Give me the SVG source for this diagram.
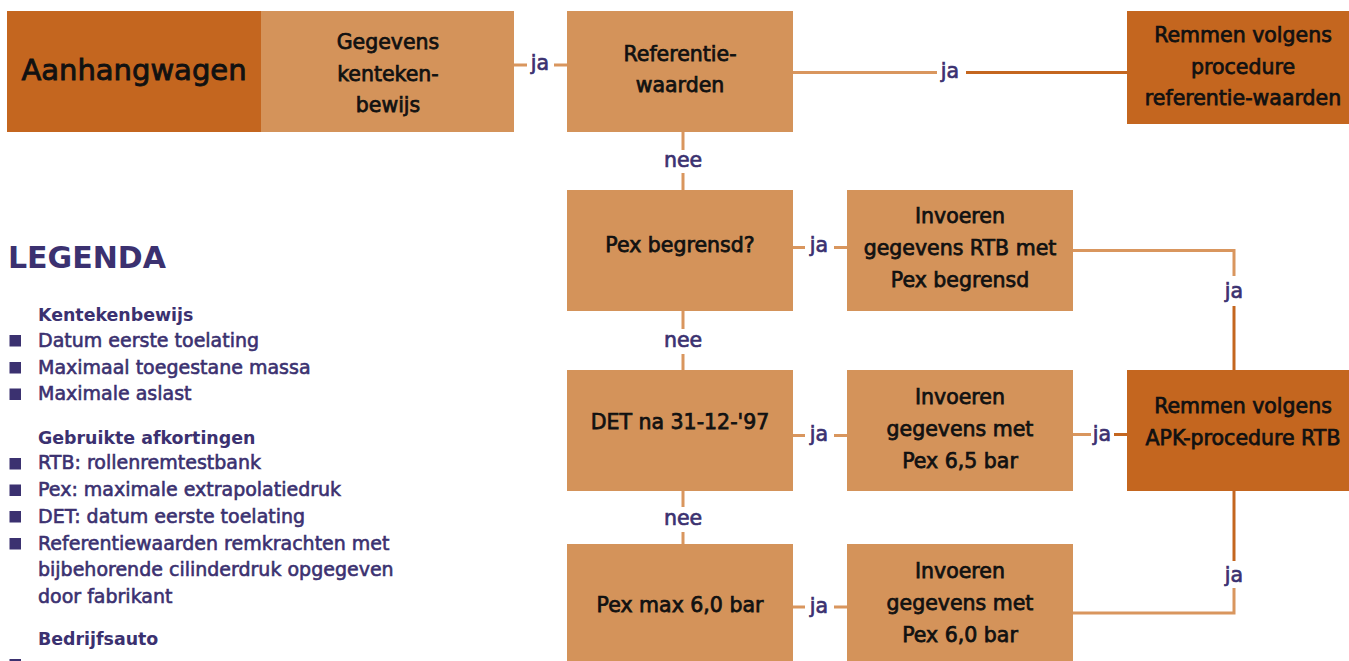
<svg xmlns="http://www.w3.org/2000/svg" width="1349" height="661" viewBox="0 0 1349 661">
<style>
.light{fill:#D4935A}
.dark{fill:#C4661F}
.nt{font-family:"DejaVu Sans",sans-serif;font-size:20.5px;fill:#111;stroke:#111;stroke-width:0.75;text-anchor:middle}
.big{font-size:29px;stroke-width:0.9}
.cl{fill:none;stroke:#D9965E;stroke-width:3}
.cd{fill:none;stroke:#C4661F;stroke-width:3}
.lb{font-family:"DejaVu Sans",sans-serif;font-size:20.5px;fill:#3B3170;stroke:#3B3170;stroke-width:0.7;text-anchor:middle}
.lg{font-family:"DejaVu Sans",sans-serif;fill:#3B3170}
.lgh{font-size:17.4px;font-weight:bold}
.lgi{font-size:19px;stroke:#3B3170;stroke-width:0.6}
.lgt{font-size:30px;font-weight:bold}
.sq{fill:#3B3170}
</style>
<g id="connectors">
<path class="cl" d="M514 65H527M554 65H567"/>
<text class="lb" x="540" y="70">ja</text>
<path class="cl" d="M793 72.5H937"/>
<path class="cd" d="M966 72.5H1127"/>
<text class="lb" x="950" y="78">ja</text>
<path class="cl" d="M683 132V150M683 173V190"/>
<text class="lb" x="683" y="167">nee</text>
<path class="cl" d="M683 311V329M683 354V370"/>
<text class="lb" x="683" y="347">nee</text>
<path class="cl" d="M683 491V507M683 532V544"/>
<text class="lb" x="683" y="525">nee</text>
<path class="cl" d="M793 247.5H805M834 247.5H847"/>
<text class="lb" x="819" y="252">ja</text>
<path class="cl" d="M1073 250.5H1234V276"/>
<path class="cd" d="M1234 306V370"/>
<text class="lb" x="1234" y="298">ja</text>
<path class="cl" d="M793 435.5H805M834 435.5H847"/>
<text class="lb" x="819" y="441">ja</text>
<path class="cl" d="M1073 434.5H1091"/>
<path class="cd" d="M1114 434.5H1127"/>
<text class="lb" x="1102" y="441">ja</text>
<path class="cd" d="M1234 491V561"/>
<path class="cl" d="M1234 588V613H1073"/>
<text class="lb" x="1234" y="582">ja</text>
<path class="cl" d="M793 607H805M834 607H847"/>
<text class="lb" x="819" y="613">ja</text>
</g>
<g id="n-aanhangwagen">
<rect class="dark" x="7" y="11" width="254" height="121"/>
<text class="nt big" x="134" y="80">Aanhangwagen</text>
</g>
<g id="n-gegevens">
<rect class="light" x="261" y="11" width="253" height="121"/>
<text class="nt" x="388" y="49">Gegevens</text>
<text class="nt" x="388" y="81">kenteken-</text>
<text class="nt" x="388" y="112">bewijs</text>
</g>
<g id="n-referentie">
<rect class="light" x="567" y="11" width="226" height="121"/>
<text class="nt" x="680" y="60.5">Referentie-</text>
<text class="nt" x="680" y="92">waarden</text>
</g>
<g id="n-remmen-ref">
<rect class="dark" x="1127" y="11" width="230" height="113"/>
<text class="nt" x="1243" y="42">Remmen volgens</text>
<text class="nt" x="1243" y="73.5">procedure</text>
<text class="nt" x="1243" y="105">referentie-waarden</text>
</g>
<g id="n-pex-begrensd">
<rect class="light" x="567" y="190" width="226" height="121"/>
<text class="nt" x="680" y="252">Pex begrensd?</text>
</g>
<g id="n-invoeren-rtb">
<rect class="light" x="847" y="190" width="226" height="121"/>
<text class="nt" x="960" y="223">Invoeren</text>
<text class="nt" x="960" y="255">gegevens RTB met</text>
<text class="nt" x="960" y="287">Pex begrensd</text>
</g>
<g id="n-det">
<rect class="light" x="567" y="370" width="226" height="121"/>
<text class="nt" x="680" y="429">DET na 31-12-'97</text>
</g>
<g id="n-invoeren-65">
<rect class="light" x="847" y="370" width="226" height="121"/>
<text class="nt" x="960" y="404">Invoeren</text>
<text class="nt" x="960" y="436">gegevens met</text>
<text class="nt" x="960" y="468">Pex 6,5 bar</text>
</g>
<g id="n-remmen-apk">
<rect class="dark" x="1127" y="370" width="230" height="121"/>
<text class="nt" x="1243" y="413">Remmen volgens</text>
<text class="nt" x="1243" y="445">APK-procedure RTB</text>
</g>
<g id="n-pex-max">
<rect class="light" x="567" y="544" width="226" height="125"/>
<text class="nt" x="680" y="612">Pex max 6,0 bar</text>
</g>
<g id="n-invoeren-60">
<rect class="light" x="847" y="544" width="226" height="125"/>
<text class="nt" x="960" y="578">Invoeren</text>
<text class="nt" x="960" y="610">gegevens met</text>
<text class="nt" x="960" y="642">Pex 6,0 bar</text>
</g>
<g id="legend" class="lg">
<text class="lgt" x="8" y="267.5">LEGENDA</text>
<text class="lgh" x="38" y="320.5">Kentekenbewijs</text>
<rect class="sq" x="9.5" y="335" width="11.5" height="11.5"/>
<text class="lgi" x="38" y="346.5">Datum eerste toelating</text>
<rect class="sq" x="9.5" y="362" width="11.5" height="11.5"/>
<text class="lgi" x="38" y="373.5">Maximaal toegestane massa</text>
<rect class="sq" x="9.5" y="388.5" width="11.5" height="11.5"/>
<text class="lgi" x="38" y="400">Maximale aslast</text>
<text class="lgh" x="38" y="443.5">Gebruikte afkortingen</text>
<rect class="sq" x="9.5" y="458" width="11.5" height="11.5"/>
<text class="lgi" x="38" y="469">RTB: rollenremtestbank</text>
<rect class="sq" x="9.5" y="484.5" width="11.5" height="11.5"/>
<text class="lgi" x="38" y="496">Pex: maximale extrapolatiedruk</text>
<rect class="sq" x="9.5" y="511" width="11.5" height="11.5"/>
<text class="lgi" x="38" y="522.5">DET: datum eerste toelating</text>
<rect class="sq" x="9.5" y="538" width="11.5" height="11.5"/>
<text class="lgi" x="38" y="549.5">Referentiewaarden remkrachten met</text>
<text class="lgi" x="38" y="576">bijbehorende cilinderdruk opgegeven</text>
<text class="lgi" x="38" y="602.5">door fabrikant</text>
<text class="lgh" x="38" y="644.5">Bedrijfsauto</text>
<rect class="sq" x="9.5" y="659" width="11.5" height="11.5"/>
</g>
</svg>
